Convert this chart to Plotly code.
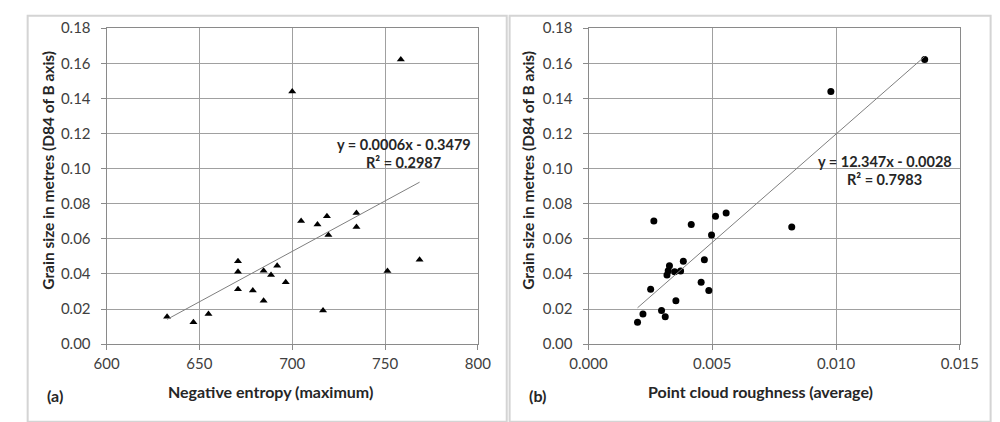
import numpy as np
import plotly.graph_objects as go

# Shared response: grain size (D84 of B axis), metres
grain_size = [0.0156, 0.0125, 0.0171, 0.0472, 0.0412, 0.0312, 0.0305, 0.0247,
              0.0418, 0.0394, 0.0447, 0.0352, 0.0702, 0.0681, 0.0729, 0.0622,
              0.0191, 0.0747, 0.0667, 0.0416, 0.0481, 0.1439, 0.1622]
# Panel (a): negative entropy (maximum)
neg_entropy = [632.6, 646.8, 654.9, 670.8, 670.8, 670.8, 678.8, 684.6,
               684.6, 688.6, 691.9, 696.5, 704.8, 713.6, 718.7, 719.5,
               716.6, 734.6, 734.6, 751.3, 768.6, 700.0, 758.5]
# Panel (b): point cloud roughness (average)
roughness = [0.00310, 0.00198, 0.00220, 0.00383, 0.00348, 0.00251, 0.00486, 0.00353,
             0.00322, 0.00317, 0.00327, 0.00455, 0.00264, 0.00415, 0.00513, 0.00497,
             0.00295, 0.00556, 0.00821, 0.00372, 0.00468, 0.00979, 0.01358]

eq_a = ["y = 0.0006x - 0.3479", "R² = 0.2987"]
eq_b = ["y = 12.347x - 0.0028", "R² = 0.7983"]
x_title_a = "Negative entropy (maximum)"
x_title_b = "Point cloud roughness (average)"
y_title = "Grain size in metres (D84 of B axis)"

W, H = 1000, 422
FONT = "Lato"
TICK_COLOR = "#404040"
GRID = "#a0a0a0"
AXIS = "#8a8a8a"

def px_x(p):
    return p / W

def px_y(p):
    return 1 - p / H

fig = go.Figure()

def trend(xs, ys):
    xs = np.asarray(xs, float)
    ys = np.asarray(ys, float)
    m, b = np.polyfit(xs, ys, 1)
    xl = np.array([xs.min(), xs.max()])
    return xl, m * xl + b

# Panel a
fig.add_trace(go.Scatter(x=neg_entropy, y=grain_size, mode="markers",
                         marker=dict(symbol="triangle-up", size=7, color="black"),
                         xaxis="x", yaxis="y", showlegend=False))
tx, ty = trend(neg_entropy, grain_size)
fig.add_trace(go.Scatter(x=tx, y=ty, mode="lines", line=dict(color="#7f7f7f", width=1),
                         xaxis="x", yaxis="y", showlegend=False))
# Panel b
fig.add_trace(go.Scatter(x=roughness, y=grain_size, mode="markers",
                         marker=dict(symbol="circle", size=7, color="black"),
                         xaxis="x2", yaxis="y2", showlegend=False))
tx, ty = trend(roughness, grain_size)
fig.add_trace(go.Scatter(x=tx, y=ty, mode="lines", line=dict(color="#7f7f7f", width=1),
                         xaxis="x2", yaxis="y2", showlegend=False))

ydom = [px_y(349), px_y(19)]
base = dict(showgrid=True, gridcolor=GRID, gridwidth=1, showline=True, linecolor=AXIS,
            linewidth=1, mirror=True, ticks="outside", ticklen=5, tickcolor=AXIS,
            tickfont=dict(family=FONT, size=15, color=TICK_COLOR), zeroline=False)
common_x = dict(base, ticklabelstandoff=1)
common_y = dict(base, ticklabelstandoff=7)

fig.update_layout(
    width=W, height=H, margin=dict(l=0, r=0, t=0, b=0),
    paper_bgcolor="white", plot_bgcolor="white",
    xaxis=dict(domain=[px_x(91), px_x(477)], range=[600, 800], dtick=50,
               anchor="y", **common_x),
    yaxis=dict(domain=ydom, range=[0, 0.18], dtick=0.02, tickformat=".2f",
               anchor="x", **common_y),
    xaxis2=dict(domain=[px_x(592), px_x(978)], range=[0, 0.015], dtick=0.005,
                tickformat=".3f", anchor="y2", **common_x),
    yaxis2=dict(domain=ydom, range=[0, 0.18], dtick=0.02, tickformat=".2f",
                anchor="x2", **common_y),
)

# panel frames
fig.add_shape(type="rect", xref="paper", yref="paper",
              x0=px_x(9), x1=px_x(507), y0=px_y(430), y1=px_y(6),
              line=dict(color="#d4d4d4", width=2), fillcolor="rgba(0,0,0,0)", layer="below")
fig.add_shape(type="rect", xref="paper", yref="paper",
              x0=px_x(510), x1=px_x(1010), y0=px_y(430), y1=px_y(6),
              line=dict(color="#d4d4d4", width=2), fillcolor="rgba(0,0,0,0)", layer="below")

def ann(text, x, y, size=16, angle=0):
    fig.add_annotation(xref="paper", yref="paper", x=px_x(x), y=px_y(y), text=f"<b>{text}</b>",
                       showarrow=False, xanchor="center", yanchor="middle", textangle=angle,
                       font=dict(family=FONT, size=size, color="#262626"))

ann(x_title_a, 261, 399)
ann(x_title_b, 771, 399)
ann("(a)", 37, 403)
ann("(b)", 539, 403)
ann(y_title, 30, 167, size=15.5, angle=-90)
ann(y_title, 529, 167, size=15.5, angle=-90)
ann(eq_a[0], 400, 140, size=14.5)
ann(eq_a[1], 400, 159, size=14.5)
ann(eq_b[0], 900, 158, size=14.5)
ann(eq_b[1], 900, 177, size=14.5)

fig.write_html("out.html", config={"displayModeBar": False},
               post_script="document.body.style.margin='0';document.body.style.overflow='hidden';")
